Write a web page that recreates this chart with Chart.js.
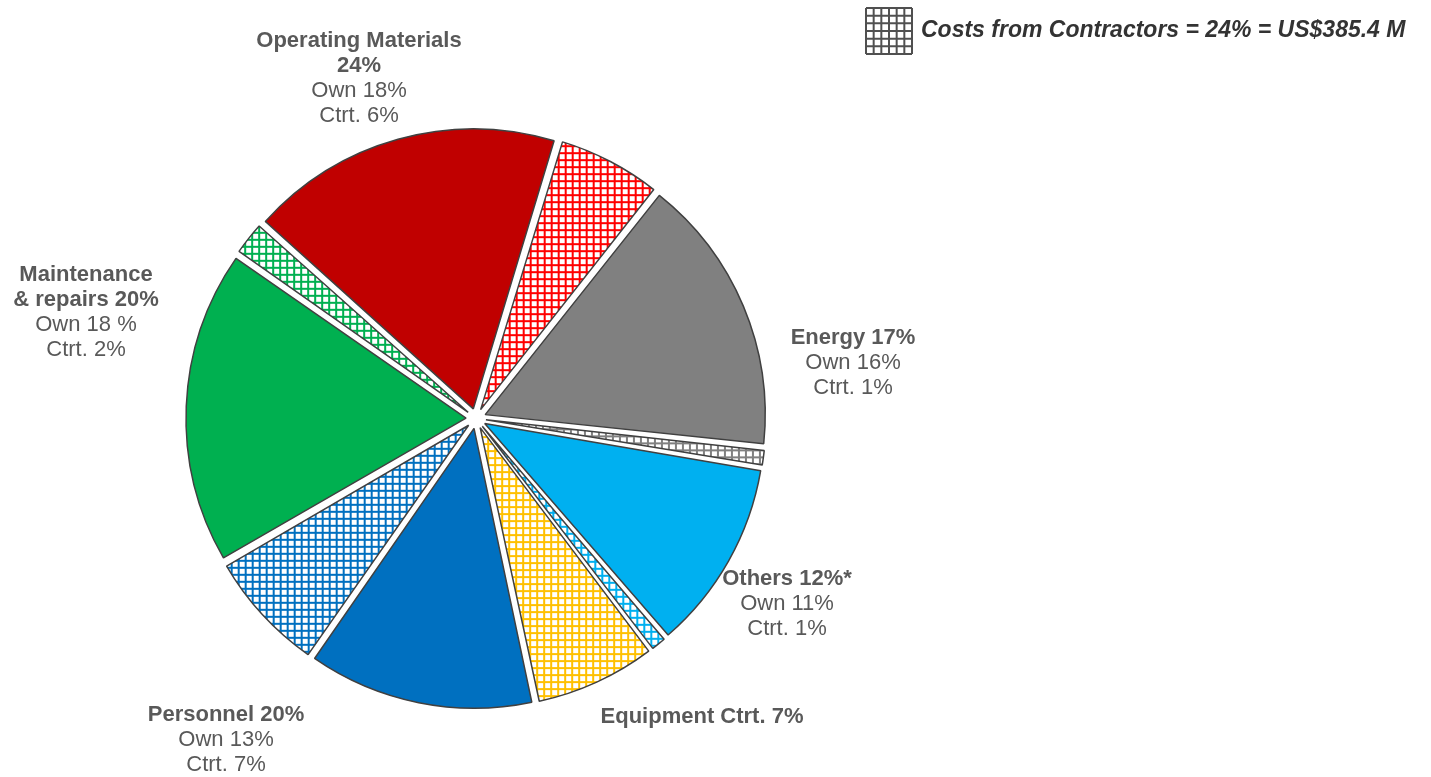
<!DOCTYPE html>
<html>
<head>
<meta charset="utf-8">
<script src="https://cdn.jsdelivr.net/npm/chart.js@4"></script>
<style>
body{margin:0;background:#fff;}
#wrap{position:relative;width:1431px;height:777px;}
</style>
</head>
<body>
<div id="wrap"><canvas id="costChart"></canvas></div>
<script>
// cost split, clockwise from the top-left (own part then contractor part)
const categories=["Operating Materials Own","Operating Materials Ctrt.","Energy Own","Energy Ctrt.","Others Own","Others Ctrt.","Equipment Ctrt.","Personnel Own","Personnel Ctrt.","Maintenance Own","Maintenance Ctrt."];
const shares=[18,6,16,1,11,1,7,13,7,18,2];
const fromContractor=[false,true,false,true,false,true,true,false,true,false,true];
const baseColors=["#C00000","#FF0000","#808080","#808080","#00B0F0","#00B0F0","#FFC000","#0070C0","#0070C0","#00B050","#00B050"];

// text blocks around the pie: [text, bold]
const groupLabels=[
[["Operating Materials",true],["24%",true],["Own 18%",false],["Ctrt. 6%",false]],
[["Maintenance",true],["& repairs 20%",true],["Own 18 %",false],["Ctrt. 2%",false]],
[["Energy 17%",true],["Own 16%",false],["Ctrt. 1%",false]],
[["Others 12%*",true],["Own 11%",false],["Ctrt. 1%",false]],
[["Equipment Ctrt. 7%",true]],
[["Personnel 20%",true],["Own 13%",false],["Ctrt. 7%",false]]
];
const legendText="Costs from Contractors = 24% = US$385.4 M";

// where each text block sits (centre x, first line y)
const labelPos=[[359,41],[86,275],[853,338],[787,579],[702,717],[226,715]];

function hatch(color){
  const s=7;
  const c=document.createElement("canvas");
  c.width=s;c.height=s;
  const g=c.getContext("2d");
  g.fillStyle="#fff";
  g.fillRect(0,0,s,s);
  g.fillStyle=color;
  g.fillRect(0,0,s,2);
  g.fillRect(0,0,2,s);
  return g.createPattern(c,"repeat");
}

const fills=baseColors.map((c,i)=>fromContractor[i]?hatch(c):c);

// exploded slices keep the same radius (chart.js grows thin slices by the offset)
const evenRadius={
  id:"evenRadius",
  afterDatasetsUpdate(chart){
    chart.getDatasetMeta(0).data.forEach(a=>{
      const off=(a.options.offset||0)/4;
      const fix=1-Math.sin(Math.min(Math.PI,a.circumference));
      a.outerRadius-=off*fix;
    });
  }
};

const textPlugin={
  id:"pieText",
  afterDraw(chart){
    const ctx=chart.ctx;
    ctx.save();
    ctx.textAlign="center";
    ctx.textBaseline="middle";
    ctx.fillStyle="#595959";
    groupLabels.forEach((lines,i)=>{
      const [x,y]=labelPos[i];
      lines.forEach((l,j)=>{
        ctx.font=(l[1]?"bold ":"")+"22px 'Liberation Sans', Arial, sans-serif";
        ctx.fillText(l[0],x,y+j*25);
      });
    });
    // contractor legend
    const bx=866,by=8,bs=46,n=6;
    ctx.strokeStyle="#505050";
    ctx.lineWidth=2;
    for(let k=0;k<=n;k++){
      const p=k*bs/n;
      ctx.beginPath();ctx.moveTo(bx+p,by);ctx.lineTo(bx+p,by+bs);ctx.stroke();
      ctx.beginPath();ctx.moveTo(bx,by+p);ctx.lineTo(bx+bs,by+p);ctx.stroke();
    }
    ctx.textAlign="left";
    ctx.fillStyle="#333";
    ctx.font="italic bold 23px 'Liberation Sans', Arial, sans-serif";
    ctx.fillText(legendText,921,31);
    ctx.restore();
  }
};

new Chart(document.getElementById("costChart"),{
type:"pie",
data:{
labels:categories,
datasets:[{
data:shares,
backgroundColor:fills,
borderColor:"#404040",
borderWidth:1.5,
offset:40
}]
},
options:{
responsive:true,
maintainAspectRatio:false,
animation:false,
events:[],
rotation:-48,
radius:280,
layout:{padding:{left:0,right:479,top:60,bottom:0}},
plugins:{legend:{display:false},tooltip:{enabled:false}}
},
plugins:[evenRadius,textPlugin]
});
</script>
</body>
</html>
